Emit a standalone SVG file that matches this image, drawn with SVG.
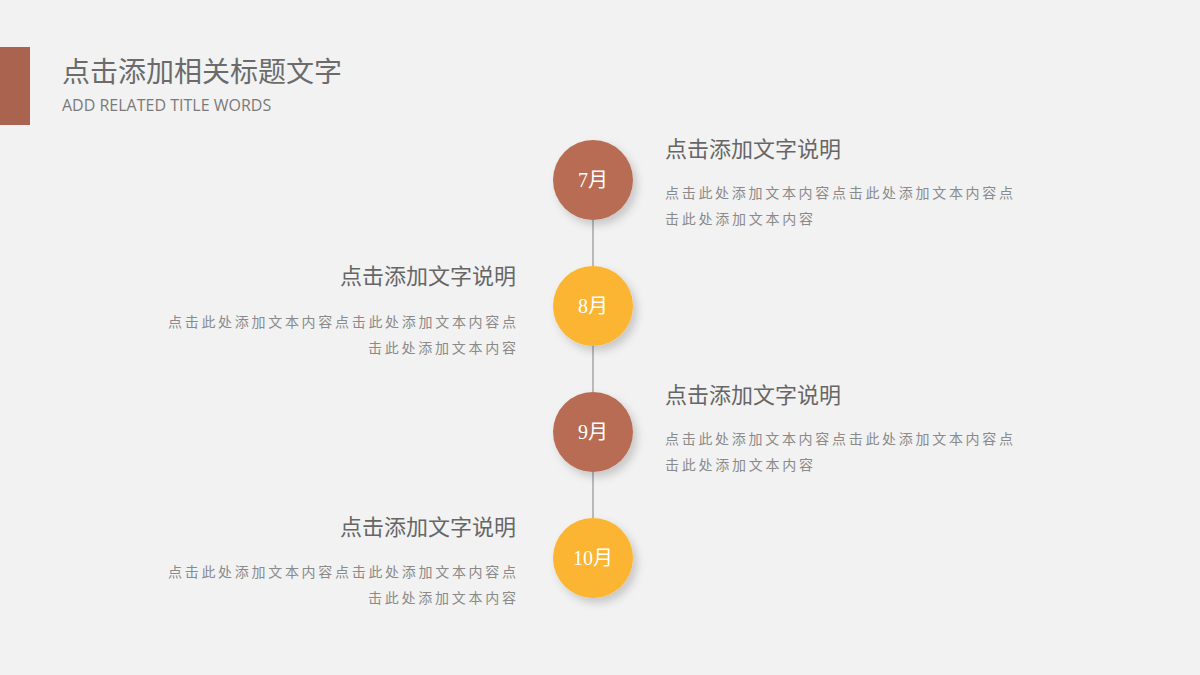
<svg xmlns="http://www.w3.org/2000/svg" width="1200" height="675" viewBox="0 0 1200 675">
<defs>
<filter id="sh" x="-30%" y="-30%" width="170%" height="170%"><feDropShadow dx="4" dy="5" stdDeviation="4" flood-color="#000" flood-opacity="0.18"/></filter>
</defs>
<style>
.t{font-family:"Liberation Serif","Noto Sans CJK SC",serif;fill:#666}
.h{font-size:22px}
.b{font-size:14px;fill:#8a8a8a}
.m{font-family:"Liberation Serif","Noto Sans CJK SC",serif;font-size:20px;fill:#fff;text-anchor:middle}
.br{fill:#B86C53}
.ye{fill:#FBB532}
</style>
<rect width="1200" height="675" fill="#F2F2F2"/>
<g id="title">
<rect x="0" y="47" width="30" height="78" fill="#A9634E"/>
<text x="62" y="82" font-family="'Noto Sans CJK SC',sans-serif" font-size="28" fill="#6b6b6b">点击添加相关标题文字</text>
<text x="62" y="111" font-family="'Open Sans','Noto Sans',sans-serif" font-size="16" fill="#7a7a7a">ADD RELATED TITLE WORDS</text>
</g>
<g id="connectors" stroke="#A6A6A6" stroke-width="1.5">
<line x1="593" y1="220" x2="593" y2="266"/>
<line x1="593" y1="346" x2="593" y2="392"/>
<line x1="593" y1="472" x2="593" y2="518"/>
</g>
<g id="n7"><circle cx="593" cy="180" r="40" class="br" filter="url(#sh)"/><text x="593" y="187" class="m">7月</text>
<text x="665" y="157" class="t h">点击添加文字说明</text>
<text x="665" y="198" class="t b" textLength="348">点击此处添加文本内容点击此处添加文本内容点</text>
<text x="665" y="224" class="t b" textLength="148">击此处添加文本内容</text></g>
<g id="n8"><circle cx="593" cy="306" r="40" class="ye" filter="url(#sh)"/><text x="593" y="313" class="m">8月</text>
<text x="516" y="284" class="t h" text-anchor="end">点击添加文字说明</text>
<text x="168" y="327" class="t b" textLength="348">点击此处添加文本内容点击此处添加文本内容点</text>
<text x="368" y="353" class="t b" textLength="148">击此处添加文本内容</text></g>
<g id="n9"><circle cx="593" cy="432" r="40" class="br" filter="url(#sh)"/><text x="593" y="439" class="m">9月</text>
<text x="665" y="403" class="t h">点击添加文字说明</text>
<text x="665" y="444" class="t b" textLength="348">点击此处添加文本内容点击此处添加文本内容点</text>
<text x="665" y="470" class="t b" textLength="148">击此处添加文本内容</text></g>
<g id="n10"><circle cx="593" cy="558" r="40" class="ye" filter="url(#sh)"/><text x="593" y="565" class="m">10月</text>
<text x="516" y="535" class="t h" text-anchor="end">点击添加文字说明</text>
<text x="168" y="577" class="t b" textLength="348">点击此处添加文本内容点击此处添加文本内容点</text>
<text x="368" y="603" class="t b" textLength="148">击此处添加文本内容</text></g>
</svg>
